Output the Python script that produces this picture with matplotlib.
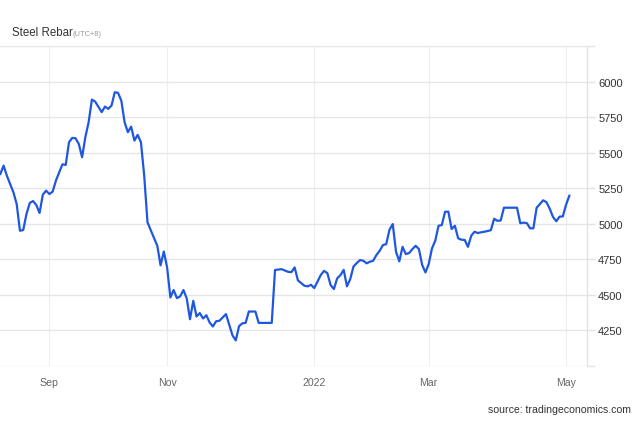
import numpy as np
import pandas as pd
import matplotlib
matplotlib.use('Agg')
import matplotlib.pyplot as plt

plt.rcParams['font.family'] = ['Liberation Sans', 'DejaVu Sans']

# exchange holidays (trading-day axis)
holidays = ['2021-09-20', '2021-09-21', '2021-10-01', '2021-10-04', '2021-10-05',
            '2021-10-06', '2021-10-07', '2022-01-03', '2022-01-31', '2022-02-01',
            '2022-02-02', '2022-02-03', '2022-02-04', '2022-04-04', '2022-04-05',
            '2022-05-02', '2022-05-03', '2022-05-04']

# trading session number (0 = 2021-08-11) and price
session = [0, 1, 2, 3, 4, 5, 6, 7, 8, 9, 10, 11, 12, 13, 14, 15, 16, 17, 18, 19,
           20, 21, 22, 23, 24, 25, 26, 27, 28, 29, 31, 32, 33, 34, 35, 36, 37, 38, 39, 40,
           41, 42, 43, 44, 45, 46, 48, 49, 50, 51, 52, 53, 54, 55, 56, 57, 58, 59, 60, 61,
           62, 63, 64, 65, 66, 67, 69, 70, 71, 72, 73, 74, 75, 76, 78, 79, 83, 84, 86, 88,
           89, 90, 91, 93, 94, 95, 96, 98, 99, 100, 101, 102, 103, 104, 105, 106, 107, 108, 109, 110,
           111, 112, 113, 114, 115, 116, 117, 118, 119, 120, 121, 122, 123, 124, 125, 126, 127, 128, 129, 130,
           131, 132, 133, 134, 135, 136, 137, 138, 139, 140, 141, 142, 143, 144, 145, 146, 147, 148, 149, 150,
           151, 152, 153, 154, 158, 159, 160, 161, 162, 163, 164, 166, 167, 168, 169, 170, 171, 172, 173, 174]
price = [5350, 5409, 5338, 5280, 5221, 5139, 4951, 4956, 5069, 5146, 5160, 5132, 5076, 5205, 5233, 5209, 5226, 5303, 5362, 5418,
         5414, 5573, 5604, 5601, 5561, 5468, 5609, 5714, 5873, 5859, 5785, 5824, 5808, 5831, 5925, 5920, 5866, 5714, 5644, 5683,
         5585, 5625, 5573, 5338, 5010, 4955, 4845, 4708, 4805, 4693, 4482, 4534, 4477, 4490, 4534, 4475, 4329, 4458, 4348, 4372,
         4334, 4357, 4306, 4278, 4315, 4318, 4365, 4290, 4215, 4180, 4280, 4300, 4303, 4383, 4383, 4303, 4303, 4675, 4681, 4662,
         4660, 4693, 4602, 4564, 4560, 4571, 4548, 4640, 4669, 4653, 4569, 4541, 4616, 4639, 4676, 4560, 4611, 4700, 4724, 4745,
         4740, 4722, 4733, 4740, 4780, 4810, 4850, 4857, 4958, 4998, 4803, 4736, 4838, 4787, 4794, 4822, 4845, 4822, 4710, 4658,
         4717, 4827, 4881, 4986, 4991, 5085, 5085, 4963, 4986, 4898, 4888, 4886, 4838, 4916, 4944, 4935, 4940, 4944, 4949, 4955,
         5035, 5021, 5023, 5113, 5113, 5004, 5008, 5005, 4968, 4968, 5113, 5165, 5152, 5106, 5048, 5018, 5050, 5052, 5134, 5197]

month_starts = ['2021-09', '2021-11', '2022-01', '2022-03', '2022-05']
month_labels = ['Sep', 'Nov', '2022', 'Mar', 'May']
yticks = [4000, 4250, 4500, 4750, 5000, 5250, 5500, 5750, 6000, 6250]

days = pd.bdate_range('2021-08-11', '2022-05-31')
days = days[~days.isin(pd.to_datetime(holidays))]
periods = np.array(days.to_period('M').astype(str))
tick_pos = [int(np.argmax(periods == m)) for m in month_starts]

fig = plt.figure(figsize=(6.4, 4.27), dpi=100)
ax = fig.add_axes([0, 60 / 427, 587 / 640, 320 / 427])

ax.plot(session, price, color='#1f57e0', lw=1.6, solid_joinstyle='round')

ax.set_xlim(-0.1, 179.4)
ax.set_ylim(4000, 6250)

ax.set_yticks(yticks)
ax.set_yticklabels(['' if v in (4000, 6250) else str(v) for v in yticks])
ax.yaxis.tick_right()
ax.tick_params(axis='y', length=6, width=1, color='#e3e3e3', pad=2,
               labelsize=8, labelcolor='#333333')

ax.set_xticks(tick_pos)
ax.set_xticklabels(month_labels)
ax.tick_params(axis='x', length=0, pad=8, labelsize=7.6, labelcolor='#666666')

ax.grid(True, axis='y', color='#e6e6e6', lw=1)
ax.grid(True, axis='x', color='#eeeeee', lw=0.8)

for s in ['left', 'top', 'bottom']:
    ax.spines[s].set_visible(False)
ax.spines['right'].set_color('#e3e3e3')
ax.spines['right'].set_linewidth(1)

fig.text(12 / 640, 1 - 36 / 427, 'Steel Rebar', fontsize=8.3, color='#333333', va='baseline')
fig.text(72.5 / 640, 1 - 36 / 427, '(UTC+8)', fontsize=5.4, color='#999999', va='baseline')
fig.text(631 / 640, 1 - 413 / 427, 'source: tradingeconomics.com', fontsize=7.6,
         color='#333333', ha='right', va='baseline')

fig.savefig('out.png', dpi=100)
